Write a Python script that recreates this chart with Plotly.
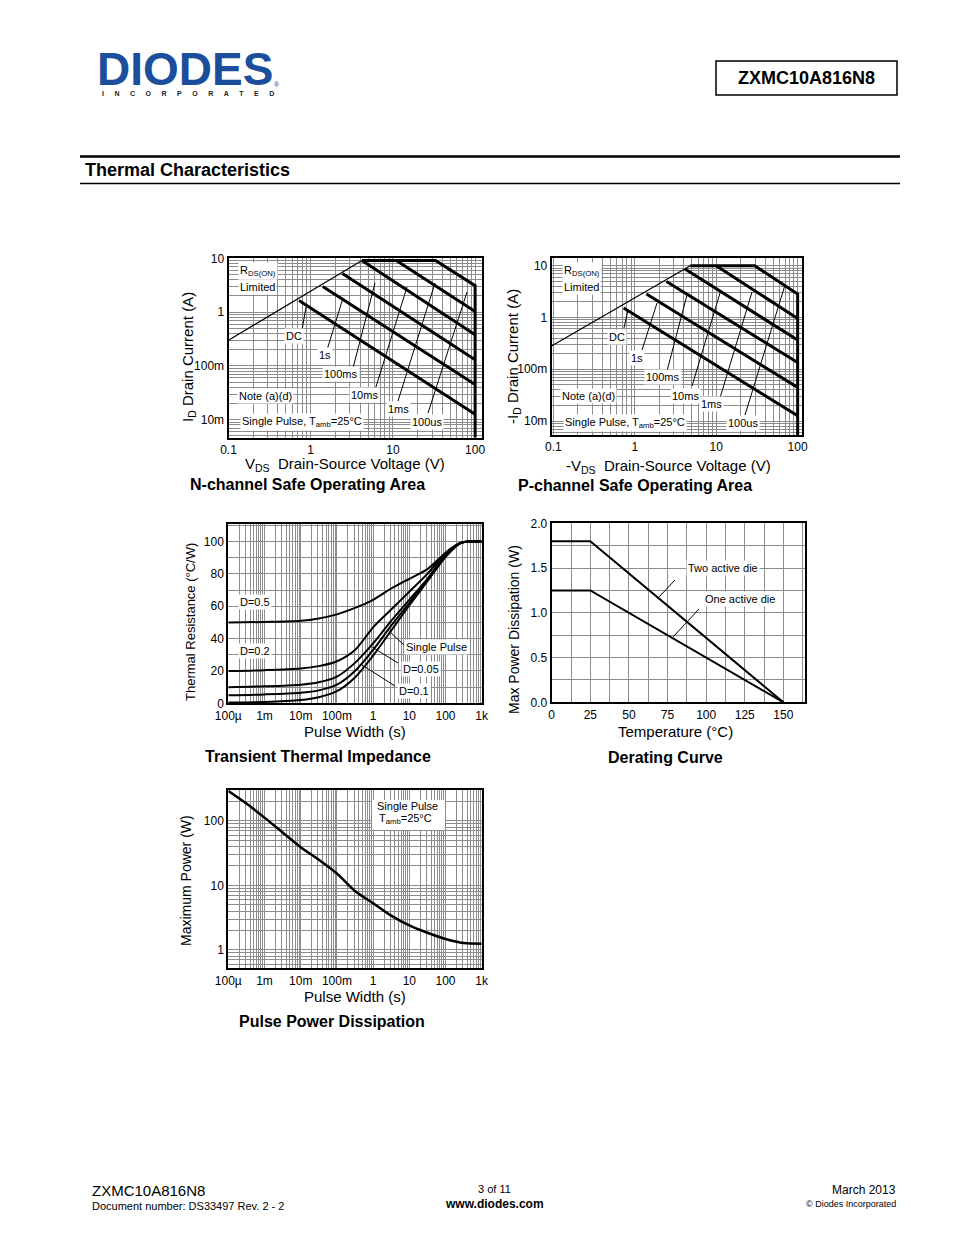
import math
import plotly.graph_objects as go

W, H = 954, 1235
FONT = "Liberation Sans, Arial, Helvetica, sans-serif"
GRID = "#8c8c8c"

# ---------------- data ----------------
# N-channel safe operating area (V, A)
n_rds_v = [0.1, 4.2];        n_rds_i = [0.30, 9.1]
n_bound_v = [4.2, 33, 100, 100]; n_bound_i = [9.1, 9.1, 3.1, 0.001]
n_dc_v = [0.72, 100];        n_dc_i = [1.65, 0.0126]
n_1s_v = [1.4, 100];         n_1s_i = [3.0, 0.045]
n_100ms_v = [2.43, 100];     n_100ms_i = [5.2, 0.13]
n_10ms_v = [4.2, 100];       n_10ms_i = [9.1, 0.38]
n_1ms_v = [11, 100];         n_1ms_i = [9.1, 1.03]

# P-channel safe operating area (-V, -A)
p_rds_v = [0.095, 4.8];      p_rds_i = [0.28, 10]
p_bound_v = [4.8, 29.7, 100, 100]; p_bound_i = [10, 10, 2.83, 0.001]
p_dc_v = [0.73, 100];        p_dc_i = [1.52, 0.0126]
p_1s_v = [1.39, 100];        p_1s_i = [2.83, 0.0446]
p_100ms_v = [2.45, 100];     p_100ms_i = [4.95, 0.135]
p_10ms_v = [4.1, 100];       p_10ms_i = [8.7, 0.366]
p_1ms_v = [10, 100];         p_1ms_i = [10, 0.955]

# Transient thermal impedance (s, °C/W)
tt_t = [1e-4, 1e-3, 1e-2, 3.16e-2, 1e-1, 3.16e-1, 1, 3.16, 10, 31.6, 100, 251, 400, 1000]
tt_d05 = [50, 50.3, 51, 52.5, 55, 59, 64, 71, 77, 83, 93, 99, 100, 100]
tt_d02 = [20, 20.5, 21.5, 23, 26, 33, 47, 58, 69, 80, 93, 99, 100, 100]
tt_d01 = [10, 10.5, 11.5, 13, 16.5, 25, 37, 51, 64, 77, 92, 99, 100, 100]
tt_d005 = [5, 5.5, 6.5, 8, 11.5, 20, 33, 48, 62, 76, 91, 99, 100, 100]
tt_single = [0.5, 0.8, 2, 3.8, 7.5, 16, 29.5, 45, 60.5, 75.5, 90.5, 98.8, 100, 100]

# Derating curve (°C, W)
der_t = [0, 25, 150]
der_two = [1.8, 1.8, 0]
der_one = [1.25, 1.25, 0]

# Pulse power dissipation (s, W)
pp_t = [1e-4, 3.16e-4, 1e-3, 3.16e-3, 1e-2, 3.16e-2, 1e-1, 3.16e-1, 1, 3.16, 10, 31.6, 100, 316, 1000]
pp_w = [290, 185, 112, 66, 39, 25, 15.3, 8.2, 5.3, 3.4, 2.4, 1.85, 1.48, 1.28, 1.25]

# tick labels
soa_xlabels = {0.1: "0.1", 1: "1", 10: "10", 100: "100"}
soa_ylabels = {10: "10", 1: "1", 0.1: "100m", 0.01: "10m"}
time_labels = {1e-4: "100µ", 1e-3: "1m", 1e-2: "10m", 1e-1: "100m", 1: "1", 10: "10", 100: "100", 1000: "1k"}
tt_ylabels = {0: "0", 20: "20", 40: "40", 60: "60", 80: "80", 100: "100"}
der_xlabels = {0: "0", 25: "25", 50: "50", 75: "75", 100: "100", 125: "125", 150: "150"}
der_ylabels = {0: "0.0", 0.5: "0.5", 1.0: "1.0", 1.5: "1.5", 2.0: "2.0"}
pp_ylabels = {1: "1", 10: "10", 100: "100"}


def loggrid(k0, k1, extra=()):
    vals = [d * 10 ** k for k in range(k0, k1) for d in range(1, 10)]
    return vals + list(extra)


def ticktexts(vals, labels):
    out = []
    for v in vals:
        t = ""
        for k, s in labels.items():
            if abs(v - k) <= 1e-9 * max(1, abs(k)):
                t = s
        out.append(t)
    return out


def dx(l, r):
    return [l / W, r / W]


def dy(t, b):
    return [1 - b / H, 1 - t / H]


def axis(domain, anchor, typ, rng, vals, labels):
    return dict(domain=domain, anchor=anchor, type=typ, range=rng,
                tickmode="array", tickvals=vals, ticktext=ticktexts(vals, labels),
                showgrid=True, gridcolor=GRID, gridwidth=1,
                showline=True, linecolor="black", linewidth=2, mirror=True,
                ticks="", zeroline=False, fixedrange=True, automargin=False,
                tickfont=dict(size=12, family=FONT, color="black"))


fig = go.Figure()


def line(x, y, xa, ya, w):
    fig.add_trace(go.Scatter(x=x, y=y, xaxis=xa, yaxis=ya, mode="lines",
                             line=dict(color="black", width=w), showlegend=False,
                             hoverinfo="skip"))


# N SOA
line(n_rds_v, n_rds_i, "x", "y", 1.2)
for vx, iy in [(n_bound_v, n_bound_i), (n_dc_v, n_dc_i), (n_1s_v, n_1s_i),
               (n_100ms_v, n_100ms_i), (n_10ms_v, n_10ms_i), (n_1ms_v, n_1ms_i)]:
    line(vx, iy, "x", "y", 3)
# P SOA
line(p_rds_v, p_rds_i, "x2", "y2", 1.2)
for vx, iy in [(p_bound_v, p_bound_i), (p_dc_v, p_dc_i), (p_1s_v, p_1s_i),
               (p_100ms_v, p_100ms_i), (p_10ms_v, p_10ms_i), (p_1ms_v, p_1ms_i)]:
    line(vx, iy, "x2", "y2", 3)
# Transient
for yy in [tt_d05, tt_d02, tt_d01, tt_d005, tt_single]:
    fig.add_trace(go.Scatter(x=tt_t, y=yy, xaxis="x3", yaxis="y3", mode="lines",
                             line=dict(color="black", width=2, shape="spline", smoothing=0.8),
                             showlegend=False, hoverinfo="skip"))
# Derating
line(der_t, der_two, "x4", "y4", 2)
line(der_t, der_one, "x4", "y4", 2)
# Pulse power
fig.add_trace(go.Scatter(x=pp_t, y=pp_w, xaxis="x5", yaxis="y5", mode="lines",
                         line=dict(color="black", width=2.5, shape="spline", smoothing=0.8),
                         showlegend=False, hoverinfo="skip"))

soa_x = loggrid(-1, 2, [100])
soa_y_n = loggrid(-3, 1, [10])
tgrid = loggrid(-4, 3, [1000])
pp_ygrid = loggrid(-1, 2, [100, 200, 300])
tt_ygrid = list(range(0, 111, 10))
der_xgrid = [12.5 * i for i in range(0, 14)]
der_ygrid = [0.25 * i for i in range(0, 9)]

fig.update_layout(
    width=W, height=H, margin=dict(l=0, r=0, t=0, b=0, pad=0, autoexpand=False),
    paper_bgcolor="white", plot_bgcolor="white", showlegend=False,
    font=dict(family=FONT, color="black"),
    xaxis=axis(dx(228.5, 481.7), "y", "log", [-1, 2.08], soa_x, soa_xlabels),
    yaxis=axis(dy(258.3, 437.5), "x", "log", [-2.33, 1.0], soa_y_n, soa_ylabels),
    xaxis2=axis(dx(551.7, 801.7), "y2", "log", [-1.02, 2.05], soa_x, soa_xlabels),
    yaxis2=axis(dy(258.3, 435), "x2", "log", [-2.27, 1.143], soa_y_n, soa_ylabels),
    xaxis3=axis(dx(228.3, 481.7), "y3", "log", [-4, 3], tgrid, time_labels),
    yaxis3=axis(dy(524.3, 703.3), "x3", "linear", [0, 110.7], tt_ygrid, tt_ylabels),
    xaxis4=axis(dx(551.7, 805), "y4", "linear", [0, 164], der_xgrid, der_xlabels),
    yaxis4=axis(dy(523.3, 702.3), "x4", "linear", [0, 2.0], der_ygrid, der_ylabels),
    xaxis5=axis(dx(228.3, 481.7), "y5", "log", [-4, 3], tgrid, time_labels),
    yaxis5=axis(dy(790, 968.3), "x5", "log", [math.log10(0.52), math.log10(300)], pp_ygrid, pp_ylabels),
)

anns = []
shapes = []


def A(x, y, text, size=11, bg=None, xanchor="center", angle=0, color="black", yanchor="middle"):
    d = dict(x=x / W, y=1 - y / H, xref="paper", yref="paper", text=text, showarrow=False,
             font=dict(size=size, family=FONT, color=color), xanchor=xanchor, yanchor=yanchor,
             textangle=angle)
    if bg:
        d.update(bgcolor=bg, borderpad=1)
    anns.append(d)


def L(x0, y0, x1, y1, w=1, color="black"):
    shapes.append(dict(type="line", xref="paper", yref="paper", x0=x0 / W, y0=1 - y0 / H,
                       x1=x1 / W, y1=1 - y1 / H, line=dict(color=color, width=w)))


# header
A(185, 69, "<b>DIODES</b>", size=46, color="#1B4F9C")
L(104, 70, 188, 70, w=2, color="white")
gap = "\u2003\u2002"
A(100, 94, "<b>" + gap.join("INCORPORATED") + "</b>", size=7, color="#222222", xanchor="left")
A(272, 85, "®", size=7, color="#1B4F9C", xanchor="left")
shapes.append(dict(type="rect", xref="paper", yref="paper", x0=716 / W, x1=897 / W,
                   y0=1 - 95 / H, y1=1 - 61 / H, line=dict(color="black", width=1.5)))
A(806, 78, "<b>ZXMC10A816N8</b>", size=18)
L(80, 156.5, 900, 156.5, w=2.7)
L(80, 183.5, 900, 183.5, w=1.7)
A(83, 170, "<b>Thermal Characteristics</b>", size=18, xanchor="left")

# N SOA labels
A(238, 271, "R<sub>DS(ON)</sub>", size=11, bg="white", xanchor="left")
A(238, 287, "Limited", size=11, bg="white", xanchor="left")
A(294, 336, "DC", size=11, bg="white")
A(325, 355, "1s", size=11, bg="white")
A(341, 374, "100ms", size=11, bg="white")
A(364, 395, "10ms", size=11, bg="white")
A(398, 409, "1ms", size=11, bg="white")
A(427, 422, "100us", size=11, bg="white")
A(237, 396, "Note (a)(d)", size=11, bg="white", xanchor="left")
A(240, 422, "Single Pulse, T<sub>amb</sub>=25°C", size=11, bg="white", xanchor="left")
for seg in [(302, 330, 306, 307), (327, 350, 343, 298), (353, 368, 375, 283),
            (375, 390, 407, 287), (398, 401, 435, 283), (428, 413, 467, 292)]:
    L(*seg)
A(345, 464, "V<sub>DS</sub>  Drain-Source Voltage (V)", size=15)
A(188, 357, "I<sub>D</sub> Drain Current (A)", size=15, angle=-90)
A(307, 484, "<b>N-channel Safe Operating Area</b>", size=16)

# P SOA labels
A(562, 271, "R<sub>DS(ON)</sub>", size=11, bg="white", xanchor="left")
A(562, 287, "Limited", size=11, bg="white", xanchor="left")
A(617, 337, "DC", size=11, bg="white")
A(637, 358, "1s", size=11, bg="white")
A(663, 377, "100ms", size=11, bg="white")
A(685, 396, "10ms", size=11, bg="white")
A(711, 404, "1ms", size=11, bg="white")
A(743, 423, "100us", size=11, bg="white")
A(560, 396, "Note (a)(d)", size=11, bg="white", xanchor="left")
A(563, 423, "Single Pulse, T<sub>amb</sub>=25°C", size=11, bg="white", xanchor="left")
for seg in [(624, 328, 628, 310), (642, 350, 657, 303), (667, 371, 687, 295),
            (692, 386, 720, 293), (720, 398, 752, 292), (745, 415, 785, 285)]:
    L(*seg)
A(668, 466, "-V<sub>DS</sub>  Drain-Source Voltage (V)", size=15)
A(513, 357, "-I<sub>D</sub> Drain Current (A)", size=15, angle=-90)
A(635, 485, "<b>P-channel Safe Operating Area</b>", size=16)

# Transient labels
A(255, 602, "D=0.5", size=11, bg="white")
A(255, 651, "D=0.2", size=11, bg="white")
A(436, 647, "Single Pulse", size=11, bg="white")
A(421, 669, "D=0.05", size=11, bg="white")
A(414, 691, "D=0.1", size=11, bg="white")
L(404, 645, 388, 630)
L(398, 663, 372, 647)
L(395, 686, 362, 665)
A(355, 731, "Pulse Width (s)", size=15)
A(190, 622, "Thermal Resistance (°C/W)", size=13, angle=-90)
A(318, 756, "<b>Transient Thermal Impedance</b>", size=16)

# Derating labels
A(723, 568, "Two active die", size=11, bg="white")
A(740, 599, "One active die", size=11, bg="white")
L(675, 580, 659, 597)
L(699, 609, 673, 637)
A(675, 731, "Temperature (°C)", size=15)
A(514, 630, "Max Power Dissipation (W)", size=14, angle=-90)
A(665, 757, "<b>Derating Curve</b>", size=16)

# Pulse power labels
shapes.append(dict(type="rect", xref="paper", yref="paper", x0=372 / W, x1=445 / W,
                   y0=1 - 830 / H, y1=1 - 800 / H, fillcolor="white", line=dict(width=0),
                   layer="above"))
A(407, 806, "Single Pulse", size=11)
A(377, 819, "T<sub>amb</sub>=25°C", size=11, xanchor="left")
A(355, 996, "Pulse Width (s)", size=15)
A(186, 881, "Maximum Power (W)", size=14, angle=-90)
A(332, 1021, "<b>Pulse Power Dissipation</b>", size=16)

# footer
A(90, 1190, "ZXMC10A816N8", size=15, xanchor="left")
A(90, 1206, "Document number: DS33497 Rev. 2 - 2", size=11, xanchor="left")
A(494, 1189, "3 of 11", size=11)
A(494, 1204, "<b>www.diodes.com</b>", size=12)
A(898, 1190, "March 2013", size=12, xanchor="right")
A(898, 1204, "© Diodes Incorporated", size=9, xanchor="right")

fig.update_layout(annotations=anns, shapes=shapes)
fig.write_html("out.html", config={"displayModeBar": False},
               post_script="document.body.style.margin='0';document.body.style.padding='0';"
                           "document.documentElement.style.overflow='hidden';")
